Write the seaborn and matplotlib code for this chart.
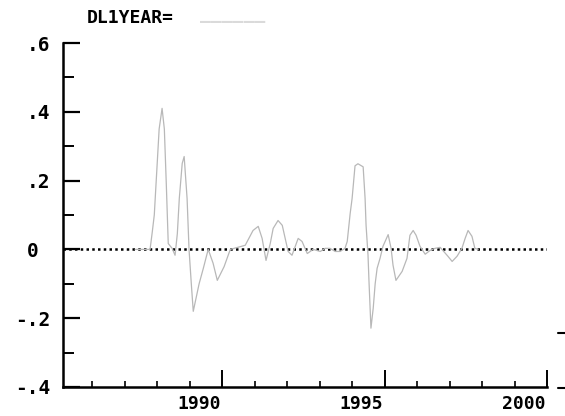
import matplotlib
matplotlib.use("Agg")
import matplotlib.pyplot as plt
import matplotlib.transforms as mtransforms
from matplotlib.lines import Line2D
from matplotlib.ticker import MultipleLocator, FixedLocator
import pandas as pd
import seaborn as sns

# DL1YEAR: one-year log difference, sampled at the turning points of the series
year = [
    1987.32, 1987.78, 1987.85, 1987.91, 1988.00, 1988.06, 1988.15, 1988.22,
    1988.28, 1988.34, 1988.46, 1988.55, 1988.62, 1988.68, 1988.77, 1988.83,
    1988.92, 1988.98, 1989.05, 1989.11, 1989.20, 1989.29, 1989.42, 1989.57,
    1989.72, 1989.85, 1990.06, 1990.25, 1990.71, 1990.95, 1991.11, 1991.23,
    1991.35, 1991.48, 1991.57, 1991.72, 1991.85, 1992.03, 1992.15, 1992.34,
    1992.46, 1992.62, 1992.80, 1993.02, 1993.17, 1993.32, 1993.48, 1993.63,
    1993.78, 1993.85, 1993.94, 1994.00, 1994.09, 1994.18, 1994.34, 1994.40,
    1994.43, 1994.49, 1994.52, 1994.58, 1994.65, 1994.71, 1994.77, 1994.86,
    1994.95, 1995.11, 1995.20, 1995.26, 1995.35, 1995.54, 1995.69, 1995.78,
    1995.88, 1995.97, 1996.09, 1996.25, 1996.40, 1996.55, 1996.71, 1996.95,
    1997.08, 1997.23, 1997.38, 1997.48, 1997.57, 1997.69, 1997.78, 1997.88,
]
dl1year = [
    0.000, 0.000, 0.052, 0.100, 0.250, 0.350, 0.410, 0.350,
    0.190, 0.017, 0.003, -0.017, 0.046, 0.148, 0.250, 0.270,
    0.148, 0.000, -0.100, -0.180, -0.140, -0.100, -0.055, 0.000,
    -0.040, -0.090, -0.050, 0.000, 0.012, 0.055, 0.067, 0.032,
    -0.032, 0.017, 0.061, 0.084, 0.070, -0.006, -0.017, 0.032,
    0.023, -0.012, 0.000, -0.006, 0.003, 0.003, -0.006, -0.006,
    0.003, 0.023, 0.104, 0.148, 0.243, 0.249, 0.240, 0.148,
    0.070, -0.017, -0.093, -0.229, -0.171, -0.100, -0.055, -0.026,
    0.009, 0.043, 0.003, -0.046, -0.090, -0.064, -0.026, 0.041,
    0.055, 0.041, 0.009, -0.014, -0.003, 0.003, 0.006, -0.020,
    -0.035, -0.020, 0.003, 0.032, 0.055, 0.038, 0.003, 0.000,
]

y_ticks = [-0.4, -0.2, 0.0, 0.2, 0.4, 0.6]
y_tick_labels = ["-.4", "-.2", "0 ", ".2", ".4", ".6"]
x_major = [1990, 1995, 2000]
x_minor = [1986, 1987, 1988, 1989, 1991, 1992, 1993, 1994, 1996, 1997, 1998, 1999]
title_text = "DL1YEAR="

df = pd.DataFrame({"year": year, "dl1year": dl1year})

sns.set_style("white")
plt.rcParams["font.family"] = ["DejaVu Sans Mono", "DejaVu Sans"]
plt.rcParams["font.weight"] = "bold"
plt.rcParams["text.color"] = "black"
plt.rcParams["xtick.color"] = "black"
plt.rcParams["ytick.color"] = "black"

fig = plt.figure(figsize=(5.65, 4.16), dpi=100)
ax = fig.add_axes([63 / 565, 29 / 416, 484 / 565, 344 / 416])

# zero reference line
ax.axhline(0, color="black", lw=1.8, ls=(0, (1, 1.3)), zorder=1)

sns.lineplot(data=df, x="year", y="dl1year", ax=ax, sort=False,
             estimator=None, color="#b8b8b8", lw=0.9, zorder=2)

ax.set_xlim(1985.1, 2000.0)
ax.set_ylim(-0.4, 0.6)
ax.set_xlabel("")
ax.set_ylabel("")

for side in ("top", "right"):
    ax.spines[side].set_visible(False)
for side in ("left", "bottom"):
    ax.spines[side].set_color("black")
    ax.spines[side].set_linewidth(1.8)

ax.yaxis.set_major_locator(FixedLocator(y_ticks))
ax.set_yticklabels(y_tick_labels)
ax.yaxis.set_minor_locator(MultipleLocator(0.1))
ax.xaxis.set_major_locator(FixedLocator(x_major))
ax.xaxis.set_minor_locator(FixedLocator(x_minor))
ax.set_xticklabels([str(v) for v in x_major])

ax.tick_params(axis="y", which="major", direction="in", length=12, width=1.6,
               pad=9, labelsize=14, left=True, colors="black")
ax.tick_params(axis="y", which="minor", direction="in", length=8, width=1.4,
               left=True, colors="black")
ax.tick_params(axis="x", which="major", direction="in", length=12, width=1.4,
               pad=6, labelsize=13, bottom=True, colors="black")
ax.tick_params(axis="x", which="minor", direction="in", length=4, width=1.2,
               bottom=True, colors="black")

for lbl in ax.get_yticklabels() + ax.get_xticklabels():
    lbl.set_fontweight("bold")

# year labels sit a little to the left of their ticks
shift = mtransforms.ScaledTranslation(-23 / 100, 0, fig.dpi_scale_trans)
for lbl in ax.get_xticklabels():
    lbl.set_transform(lbl.get_transform() + shift)

fig.text(87 / 565, 1 - 9 / 416, title_text, ha="left", va="top",
         fontsize=13, fontweight="bold", color="black")
fig.text(200 / 565, 1 - 5 / 416, "______", ha="left", va="top",
         fontsize=13, color="#dadada")

# fragments of the neighbouring panel at the right edge
fig.add_artist(Line2D([558 / 565, 565 / 565], [1 - 333 / 416, 1 - 333 / 416],
                      color="black", lw=1.5))
fig.add_artist(Line2D([558 / 565, 565 / 565], [1 - 388 / 416, 1 - 388 / 416],
                      color="black", lw=1.5))

fig.savefig("out.png", dpi=100)
